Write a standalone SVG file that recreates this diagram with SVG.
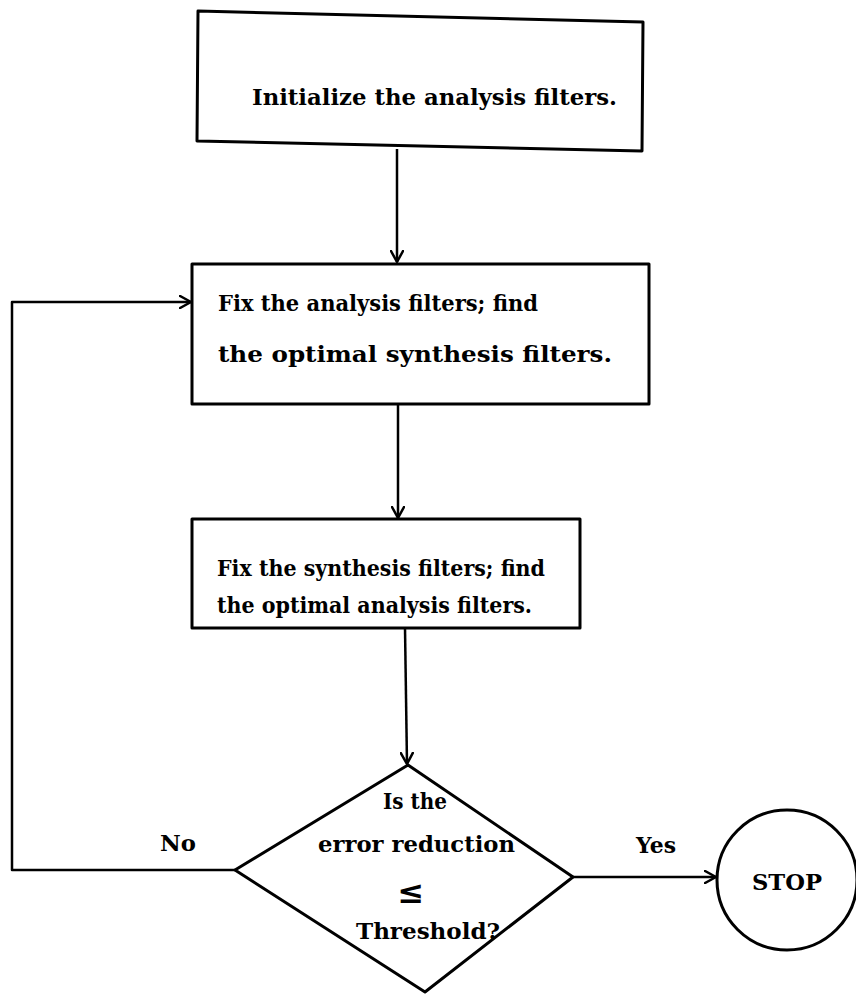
<svg xmlns="http://www.w3.org/2000/svg" width="856" height="997" viewBox="0 0 856 997">
  <style>
    .shape { fill: #ffffff; stroke: #000000; stroke-width: 3; stroke-linejoin: round; }
    .wire { fill: none; stroke: #000000; stroke-width: 2.5; stroke-linejoin: round; }
    .label { font-family: "DejaVu Serif", "Liberation Serif", serif; font-weight: bold; font-size: 23px; fill: #000000; }
    .mid { text-anchor: middle; }
    .rel { font-size: 32px; }
  </style>
  <defs>
    <marker id="head" markerWidth="14" markerHeight="14" refX="12" refY="7" orient="auto" markerUnits="userSpaceOnUse">
      <path d="M1,1 L12,7 L1,13" fill="none" stroke="#000000" stroke-width="2.5" stroke-linecap="round" stroke-linejoin="round"/>
    </marker>
  </defs>
  <rect width="856" height="997" fill="#ffffff"/>

  <!-- connectors -->
  <g id="connectors">
    <path class="wire" d="M397,149 L397,262" marker-end="url(#head)"/>
    <path class="wire" d="M398,405 L398,518" marker-end="url(#head)"/>
    <path class="wire" d="M405,628 L407,764" marker-end="url(#head)"/>
    <path class="wire" d="M235,870 L12,870 L12,302 L191,302" marker-end="url(#head)"/>
    <path class="wire" d="M573,877 L716,877" stroke-width="3" marker-end="url(#head)"/>
    <text class="label" x="160" y="851" textLength="36" lengthAdjust="spacingAndGlyphs">No</text>
    <text class="label" x="636" y="853" textLength="40" lengthAdjust="spacingAndGlyphs">Yes</text>
  </g>

  <!-- start: initialise -->
  <g id="init">
    <path class="shape" d="M198,11 L643,22 L642,151 L197,141 Z"/>
    <text class="label" x="252" y="105" textLength="365" lengthAdjust="spacingAndGlyphs">Initialize the analysis filters.</text>
  </g>

  <!-- step: optimise synthesis filters -->
  <g id="fix-analysis">
    <rect class="shape" x="192" y="264" width="457" height="140"/>
    <text class="label" x="218" y="311" textLength="320" lengthAdjust="spacingAndGlyphs">Fix the analysis filters; find</text>
    <text class="label" x="218" y="362" textLength="394" lengthAdjust="spacingAndGlyphs">the optimal synthesis filters.</text>
  </g>

  <!-- step: optimise analysis filters -->
  <g id="fix-synthesis">
    <rect class="shape" x="192" y="519" width="388" height="109"/>
    <text class="label" x="217" y="576" textLength="328" lengthAdjust="spacingAndGlyphs">Fix the synthesis filters; find</text>
    <text class="label" x="217" y="613" textLength="315" lengthAdjust="spacingAndGlyphs">the optimal analysis filters.</text>
  </g>

  <!-- decision -->
  <g id="decision">
    <path class="shape" d="M408,765 L573,877 L425,992 L235,870 Z"/>
    <text class="label" x="383" y="809" textLength="64" lengthAdjust="spacingAndGlyphs">Is the</text>
    <text class="label" x="318" y="852" textLength="197" lengthAdjust="spacingAndGlyphs">error reduction</text>
    <text class="label rel mid" x="411" y="903">≤</text>
    <text class="label" x="356" y="939" textLength="144" lengthAdjust="spacingAndGlyphs">Threshold?</text>
  </g>

  <!-- end -->
  <g id="stop">
    <circle class="shape" cx="787" cy="880" r="70"/>
    <text class="label" x="752" y="890" textLength="70" lengthAdjust="spacingAndGlyphs">STOP</text>
  </g>
</svg>
